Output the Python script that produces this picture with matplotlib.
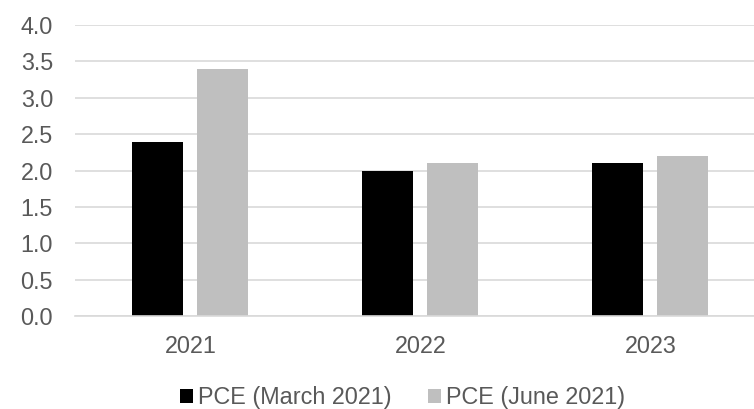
import matplotlib
matplotlib.use("Agg")
import matplotlib.pyplot as plt
import numpy as np

plt.rcParams['font.family'] = ['Liberation Sans', 'DejaVu Sans']

years = ["2021", "2022", "2023"]
pce_march = [2.4, 2.0, 2.1]
pce_june = [3.4, 2.1, 2.2]
series_labels = ["PCE (March 2021)", "PCE (June 2021)"]
yticks = [0.0, 0.5, 1.0, 1.5, 2.0, 2.5, 3.0, 3.5, 4.0]

FS = 16.8

fig = plt.figure(figsize=(7.54, 4.09), dpi=100)
ax = fig.add_axes([0.0999, 0.2267, 0.9151, 0.7122])

x = np.arange(len(years))
bw = 0.222
off = 0.1415
b1 = ax.bar(x - off, pce_march, bw, color="#000000", label=series_labels[0], zorder=3)
b2 = ax.bar(x + off, pce_june, bw, color="#bfbfbf", label=series_labels[1], zorder=3)

ax.set_xlim(-0.5, len(years) - 0.5)
ax.set_ylim(0, 4.0)
ax.set_yticks(yticks)
ax.set_yticklabels([f"{v:.1f}" for v in yticks])
ax.set_xticks(x)
ax.set_xticklabels(years)

ax.yaxis.grid(True, color="#d9d9d9", linewidth=1.2, zorder=0)
ax.set_axisbelow(True)
for s in ["top", "right", "left"]:
    ax.spines[s].set_visible(False)
ax.spines["bottom"].set_color("#d9d9d9")
ax.spines["bottom"].set_linewidth(1.2)
ax.spines["bottom"].set_zorder(4)

ax.tick_params(axis="both", length=0, labelsize=FS, labelcolor="#595959")
ax.tick_params(axis="y", pad=16)
ax.tick_params(axis="x", pad=13.5)

fig.legend(handles=[b1, b2], labels=series_labels, loc="center",
           bbox_to_anchor=(0.534, 0.027), ncol=2, frameon=False,
           fontsize=FS, labelcolor="#595959",
           handlelength=0.56, handleheight=0.56, handletextpad=0.21,
           columnspacing=1.55, borderaxespad=0, borderpad=0)

fig.savefig("out.png", dpi=100)
